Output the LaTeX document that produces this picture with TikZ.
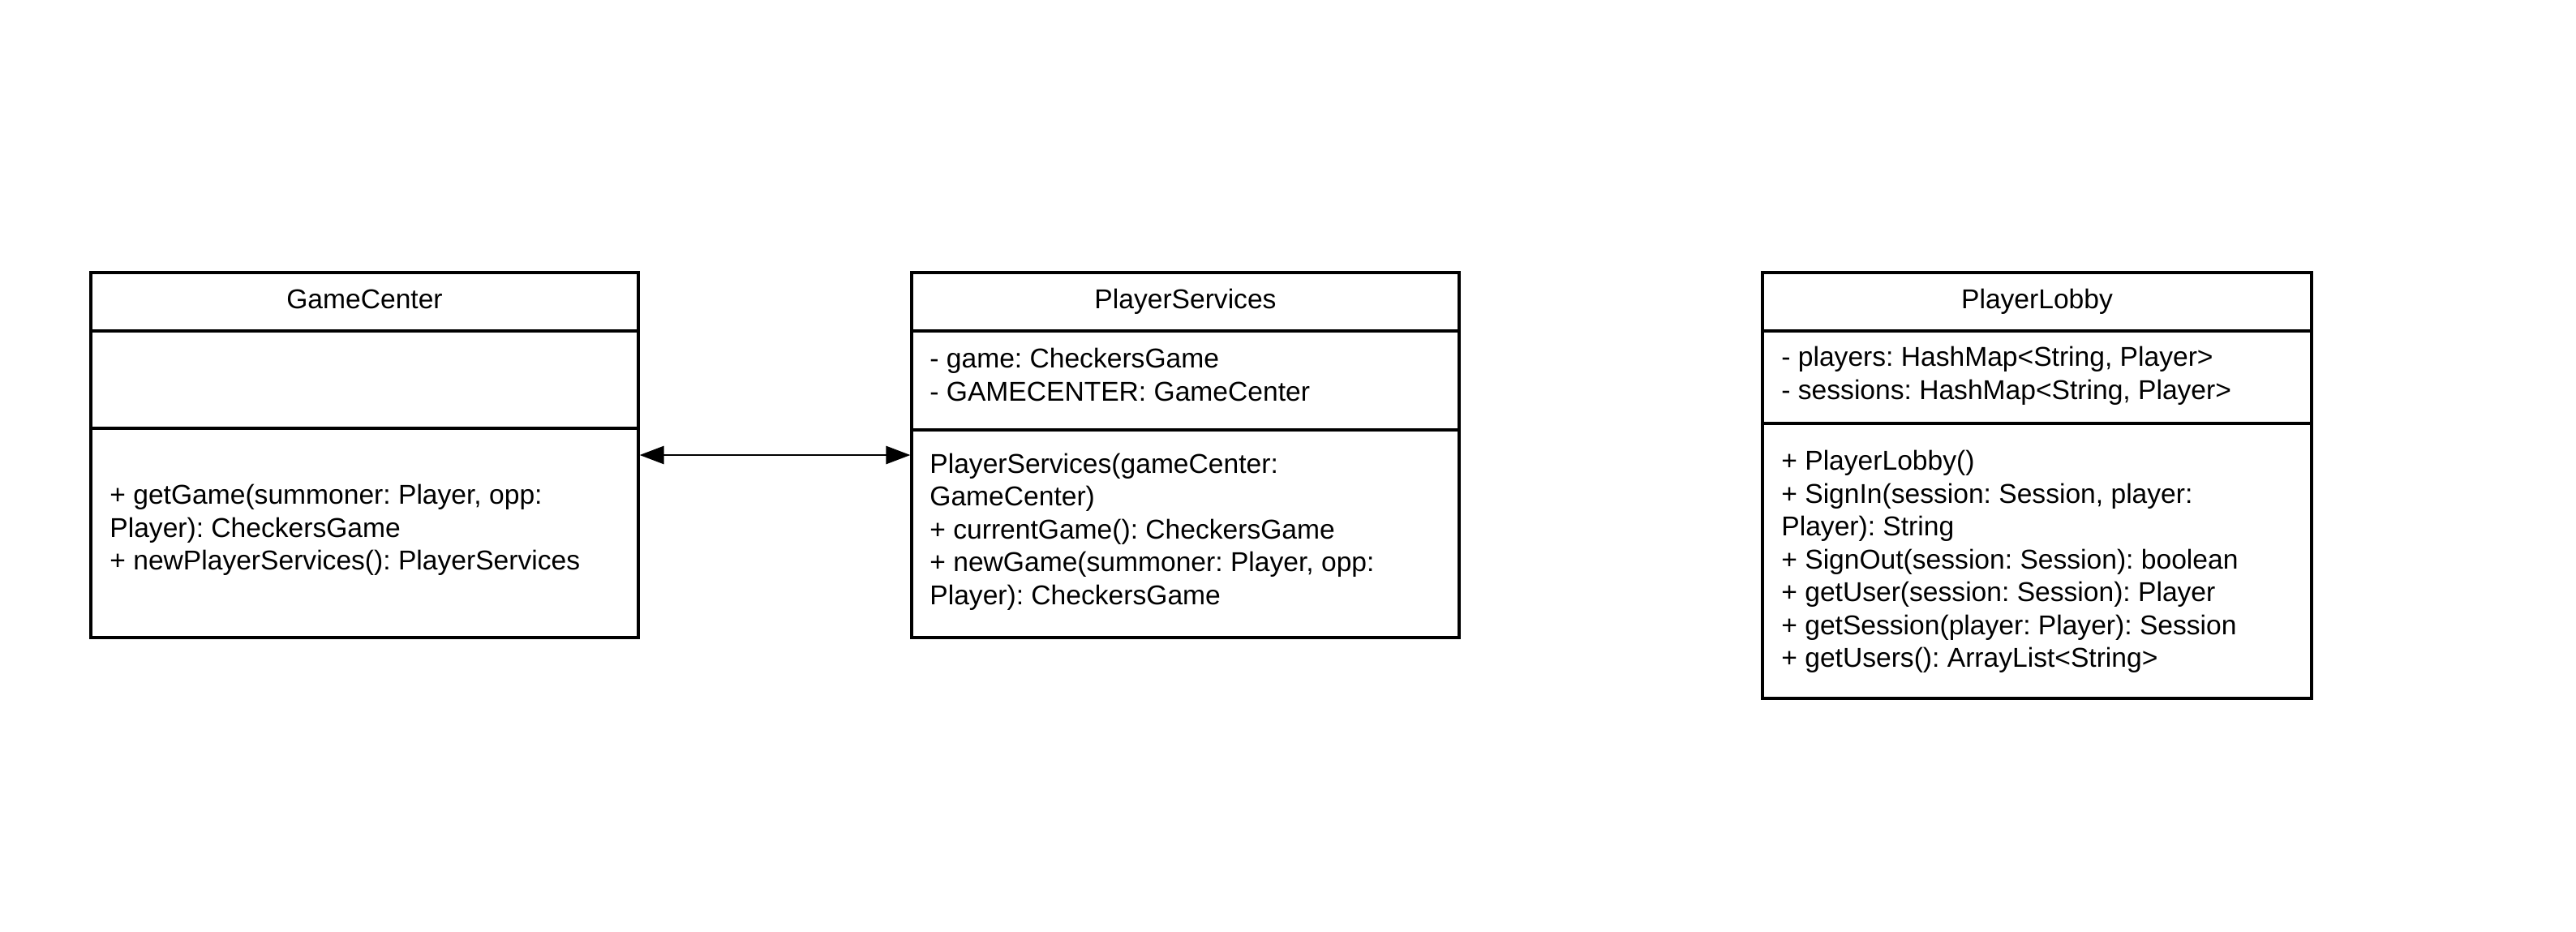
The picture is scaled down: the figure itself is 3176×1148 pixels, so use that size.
\documentclass[tikz,border=0pt]{standalone}
\usepackage{fontspec}
\setmainfont{Liberation Sans}
\usetikzlibrary{arrows.meta}
\frenchspacing
\newcommand{\lnstrut}{\rule[-0.24em]{0pt}{1.2em}}
\tikzset{
  classbox/.style={draw, line width=1.6pt, minimum width=337.5pt, inner sep=0pt},
  divider/.style={line width=1.6pt},
  ctitle/.style={inner sep=0pt, font=\fontsize{16.8}{20.25}\selectfont},
  ctext/.style={inner sep=0pt, anchor=west, align=left, font=\fontsize{16.8}{20.25}\selectfont},
  assoc/.style={line width=1.4pt, {Triangle[length=15pt,width=11pt]}-{Triangle[length=15pt,width=11pt]}}
}
\begin{document}
\frenchspacing
\begin{tikzpicture}[x=0.5pt,y=-0.5pt]
\useasboundingbox (0,0) rectangle (3176,1148);
% boxes
\node[classbox, minimum height=225pt] (gc) at (449.5,561) {};
\node[classbox, minimum height=225pt] (ps) at (1461.5,561) {};
\node[classbox, minimum width=338.5pt, minimum height=262.5pt] (pl) at (2511.5,598.5) {};
% dividers
\draw[divider] (gc.west |- 0,408) -- (gc.east |- 0,408);
\draw[divider] (gc.west |- 0,528) -- (gc.east |- 0,528);
\draw[divider] (ps.west |- 0,408) -- (ps.east |- 0,408);
\draw[divider] (ps.west |- 0,530) -- (ps.east |- 0,530);
\draw[divider] (pl.west |- 0,408) -- (pl.east |- 0,408);
\draw[divider] (pl.west |- 0,522) -- (pl.east |- 0,522);
% titles
\node[ctitle] (gct) at (449.5,368) {\lnstrut GameCenter};
\node[ctitle] (pst) at (1461.5,368) {\lnstrut PlayerServices};
\node[ctitle] (plt) at (2511.5,368) {\lnstrut PlayerLobby};
% GameCenter methods
\node[ctext] (gcm) at (135,650) {\lnstrut + getGame(summoner: Player, opp:\\\lnstrut Player): CheckersGame\\\lnstrut + newPlayerServices(): PlayerServices};
% PlayerServices
\node[ctext] (psa) at (1146,462) {\lnstrut - game: CheckersGame\\\lnstrut - GAMECENTER: GameCenter};
\node[ctext] (psm) at (1146,652) {\lnstrut PlayerServices(gameCenter:\\\lnstrut GameCenter)\\\lnstrut + currentGame(): CheckersGame\\\lnstrut + newGame(summoner: Player, opp:\\\lnstrut Player): CheckersGame};
% PlayerLobby
\node[ctext] (pla) at (2196,460) {\lnstrut - players: HashMap<String, Player>\\\lnstrut - sessions: HashMap<String, Player>};
\node[ctext] (plm) at (2196,689) {\lnstrut + PlayerLobby()\\\lnstrut + SignIn(session: Session, player:\\\lnstrut Player): String\\\lnstrut + SignOut(session: Session): boolean\\\lnstrut + getUser(session: Session): Player\\\lnstrut + getSession(player: Player): Session\\\lnstrut + getUsers(): ArrayList<String>};
% association
\draw[assoc] (gc.east) -- (ps.west);
\end{tikzpicture}
\end{document}
